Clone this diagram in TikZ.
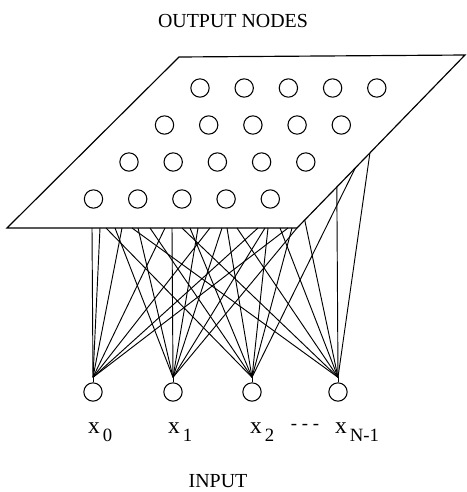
\documentclass[tikz,border=0pt]{standalone}
\usepackage{fontspec}
\setmainfont{Liberation Serif}
\usetikzlibrary{calc}

\tikzset{
  unit/.style={circle, draw, line width=0.9pt, minimum size=0.55cm, inner sep=0pt},
  link/.style={line width=0.8pt},
}
\newcommand{\inlab}[1]{x\hspace{2.5pt}\raisebox{-7.5pt}{\fontsize{16}{16}\selectfont #1}}

\begin{document}
\begin{tikzpicture}[x=0.03cm, y=-0.03cm]
    \useasboundingbox (0,0) rectangle (467,492);

    % Output plane
    \coordinate (tl) at (179,57);
    \coordinate (tr) at (465,55);
    \coordinate (br) at (297,228);
    \coordinate (bl) at (7,228);
    \draw[line width=1pt, fill=white] (tl) -- (tr) -- (br) -- (bl) -- cycle;

    % Output nodes
    \foreach \r in {0,...,3}
      \foreach \c in {0,...,4}
        \node[unit] (out\r\c) at ({200+44.2*\c-35.5*\r},{88+37*\r}) {};

    % Input nodes
    \foreach \i/\x in {0/93,1/173,2/252,3/338} {
      \node[unit] (in\i) at (\x,392) {};
      \coordinate (apex\i) at ($(in\i.north)+(0,-5)$);
      \draw[link] (in\i.north) -- (apex\i);
    }

    % Points on the right edge of the plane
    \coordinate (r1) at ($(br)!0.046!(tr)$);
    \coordinate (r2) at ($(br)!0.237!(tr)$);
    \coordinate (r3) at ($(br)!0.347!(tr)$);
    \coordinate (r4) at ($(br)!0.434!(tr)$);

    % Connections
    \foreach \x in {92,100,122,165,210,258,288} {
      \coordinate (e\x) at (\x,228);
      \draw[link] (apex0) -- (e\x);
    }
    \foreach \x in {115,138,172,198,222,265,297} {
      \coordinate (e\x) at (\x,228);
      \draw[link] (apex1) -- (e\x);
    }
    \foreach \x in {106,150,190,227,268,292} {
      \coordinate (e\x) at (\x,228);
      \draw[link] (apex2) -- (e\x);
    }
    \draw[link] (apex2) -- (r3);
    \foreach \x in {132,182,237,280} {
      \coordinate (e\x) at (\x,228);
      \draw[link] (apex3) -- (e\x);
    }
    \draw[link] (apex3) -- (r1);
    \draw[link] (apex3) -- (r2);
    \draw[link] (apex3) -- (r4);

    % Labels
    \node[font=\fontsize{17}{20}\selectfont, anchor=base] (outtitle) at (233,27) {OUTPUT NODES};
    \node[font=\fontsize{17}{20}\selectfont, anchor=base, inner sep=0pt] (intitle) at (218,487) {INPUT};
    \foreach \i/\x/\s in {0/88/0,1/168/1,2/250/2,3/335/N-1}
      \node[font=\fontsize{20}{20}\selectfont, anchor=base west, inner sep=0pt] (lab\i) at (\x,433) {\inlab{\s}};
    \node[font=\fontsize{16}{16}\selectfont, anchor=base, inner sep=0pt] (dots) at (305,429) {- - -};
\end{tikzpicture}
\end{document}
